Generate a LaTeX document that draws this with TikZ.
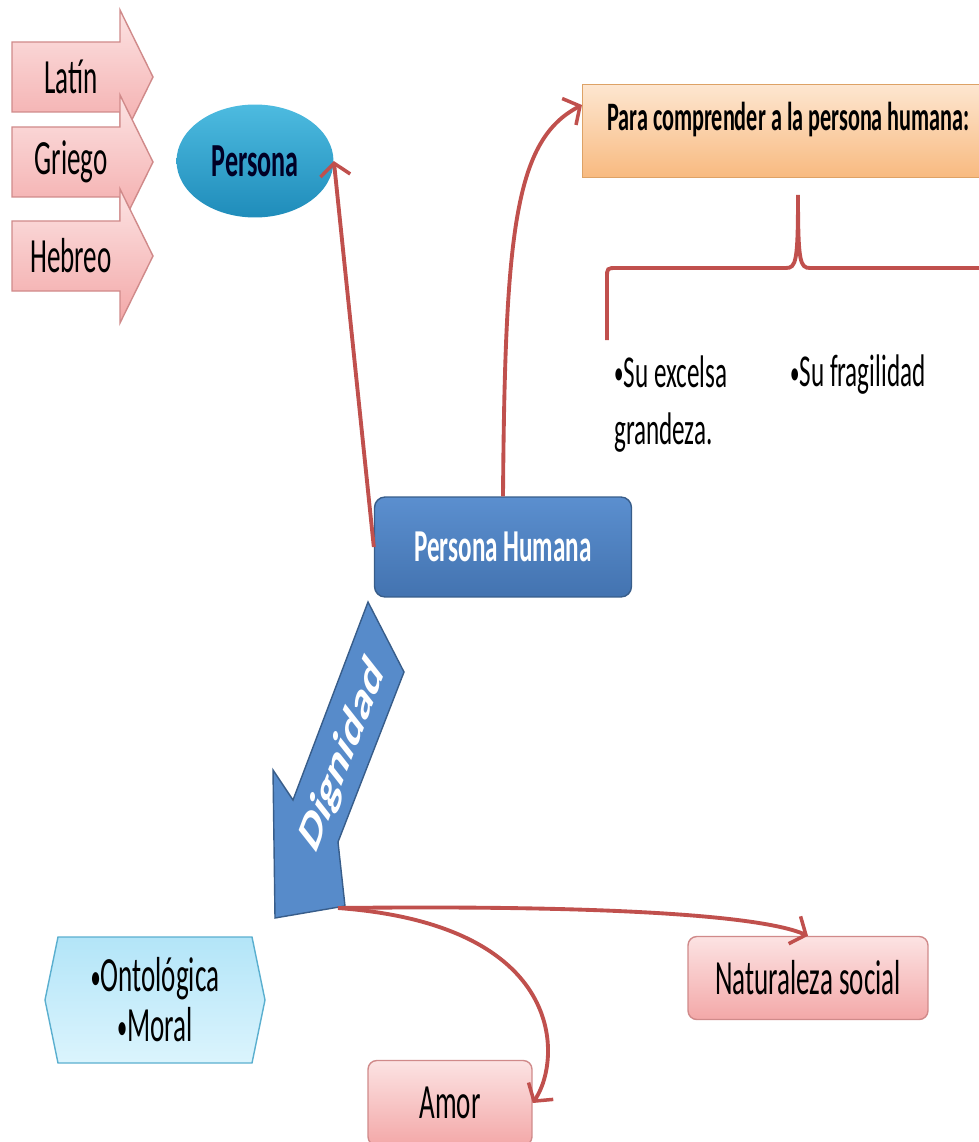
\documentclass[tikz,border=0pt]{standalone}
\usepackage{fontspec}
\setmainfont{Carlito}[FakeStretch=0.55]
\newfontfamily\widefont{Carlito}
\usepackage{tikz}
\usetikzlibrary{shapes,arrows.meta,positioning}

\definecolor{conred}{HTML}{C0504D}
\definecolor{pinktop}{HTML}{FCE3E3}
\definecolor{pinkbot}{HTML}{F3A8A8}
\definecolor{pinkline}{HTML}{D08A8A}
\definecolor{orangetop}{HTML}{FDE6D0}
\definecolor{orangebot}{HTML}{F8BA80}
\definecolor{orangeline}{HTML}{DDA266}
\definecolor{bluetop}{HTML}{5B8FCF}
\definecolor{bluebot}{HTML}{4373B0}
\definecolor{blueline}{HTML}{385D8A}
\definecolor{tealtop}{HTML}{4DBBE0}
\definecolor{tealbot}{HTML}{1F8CBA}
\definecolor{cyantop}{HTML}{B3E5F8}
\definecolor{cyanbot}{HTML}{DBF4FD}
\definecolor{cyanline}{HTML}{5AAFCF}

\newcommand{\bul}{\raisebox{0.12ex}{\scalebox{0.75}{•}}}

\tikzset{
  bigtext/.style={font=\fontsize{28}{32}\selectfont},
  langarrow/.style={draw=pinkline, line width=0.8pt, top color=pinktop, bottom color=pinkbot},
  pinkbox/.style={bigtext, draw=pinkline, line width=0.8pt, top color=pinktop, bottom color=pinkbot, rounded corners=5pt},
  conn/.style={draw=conred, line width=2.2pt, -{Straight Barb[length=7pt,width=17pt,line width=2pt]}}
}

\begin{document}
\begin{tikzpicture}[x=0.02cm,y=-0.02cm]
\useasboundingbox (0,0) rectangle (978,1142);

% idiomas
\foreach \n/\t/\yc in {latin/Latín/77, griego/Griego/162, hebreo/Hebreo/256}{
  \draw[langarrow] (12,\yc-35) -- (120,\yc-35) -- (120,\yc-67) -- (153,\yc)
    -- (120,\yc+67) -- (120,\yc+35) -- (12,\yc+35) -- cycle;
  \node[bigtext] (\n) at (71,\yc) {\t};
}

\node[ellipse, minimum width=3.14cm, minimum height=2.26cm, top color=tealtop, bottom color=tealbot,
  font=\fontsize{27}{32}\selectfont\bfseries, text=black!85!blue] (persona) at (255,161) {Persona};

\node[draw=orangeline, line width=0.8pt, top color=orangetop, bottom color=orangebot, anchor=west,
  minimum height=1.86cm, inner xsep=14pt, text height=13pt, text depth=13pt,
  font=\fontsize{23}{26}\selectfont\bfseries] (comp) at (582,131) {Para comprender a la persona humana:\hspace{30pt}};

% llave
\draw[conred, line width=2.2pt] (607,340) -- (607,278) .. controls (607,268) .. (617,268) -- (786,268)
  .. controls (796,268) and (798,262) .. (798,195) .. controls (798,262) and (800,268) .. (810,268) -- (990,268);

\node[align=left, anchor=west, font=\fontsize{26}{32.5}\selectfont] (grandeza) at (608,404) {\bul Su excelsa\\grandeza.};
\node[anchor=west, font=\fontsize{26}{32}\selectfont] (fragil) at (784,375) {\bul Su fragilidad};

\node[draw=blueline, line width=0.8pt, top color=bluetop, bottom color=bluebot, rounded corners=6pt,
  minimum width=5.14cm, minimum height=2cm, text=white, font=\fontsize{26}{30}\selectfont\bfseries]
  (ph) at (503,547) {Persona Humana};

\draw[conn] (ph.west) -- (persona.east);
\draw[conn] (ph.north) .. controls (505,230) and (515,140) .. (comp.west |- 0,105);

% dignidad
\draw[draw=blueline, line width=0.8pt, fill=bluetop!85!bluebot] (368,602) -- (404,672) -- (338,842) -- (345,906)
  -- (275,918) -- (273,770) -- (293,800) -- cycle;
\node[xscale=0.55, rotate=55, text=white, font=\widefont\fontsize{34}{40}\selectfont\bfseries] (dig) at (343,756) {Dignidad};
\coordinate (dtip) at (338,908);

\draw[draw=cyanline, line width=0.8pt, top color=cyantop, bottom color=cyanbot]
  (58,937) -- (252,937) -- (265,1000) -- (252,1063) -- (58,1063) -- (45,1000) -- cycle;
\node[align=center, font=\fontsize{28}{28.5}\selectfont] (onto) at (155,1000) {\bul Ontológica\\\bul Moral};

\node[pinkbox, minimum width=4.8cm, minimum height=1.66cm] (nat) at (808,978) {Naturaleza social};
\node[pinkbox, minimum width=3.28cm, minimum height=1.7cm] (amor) at (450,1103) {Amor};

\draw[conn] (dtip) .. controls (600,905) and (760,915) .. (nat.north);
\draw[conn] (dtip) .. controls (568,925) and (562,1060) .. (amor.east);
\end{tikzpicture}
\end{document}
